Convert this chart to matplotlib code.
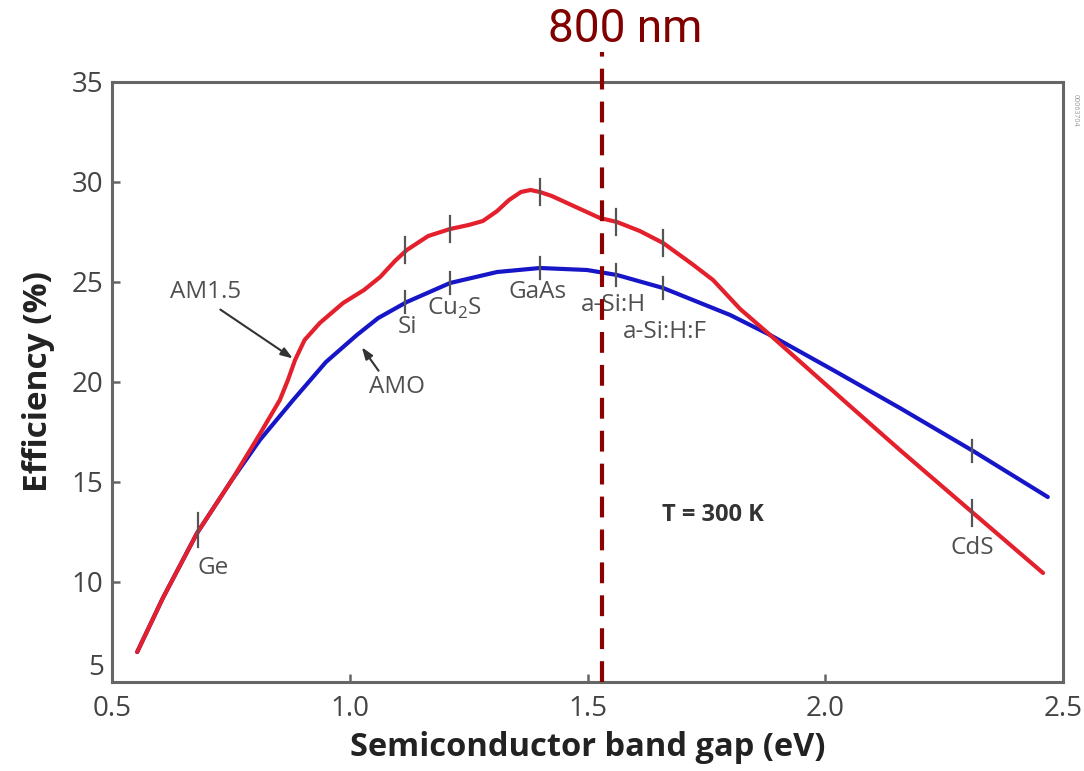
import matplotlib
matplotlib.use("Agg")
import matplotlib.pyplot as plt

# ---------------- data ----------------
am15_x = [0.553, 0.607, 0.679, 0.752, 0.811, 0.853, 0.870, 0.885, 0.905, 0.937, 0.986,
          1.030, 1.064, 1.095, 1.120, 1.165, 1.211, 1.250, 1.280, 1.310, 1.335, 1.360,
          1.380, 1.400, 1.425, 1.457, 1.526, 1.562, 1.610, 1.659, 1.720, 1.764, 1.821,
          1.884, 2.052, 2.157, 2.311, 2.458]
am15_y = [6.5, 9.2, 12.45, 15.1, 17.4, 19.1, 20.1, 21.1, 22.1, 22.95, 23.95,
          24.6, 25.25, 26.05, 26.6, 27.3, 27.65, 27.85, 28.05, 28.55, 29.1, 29.5,
          29.6, 29.5, 29.3, 28.95, 28.2, 28.0, 27.55, 26.95, 25.9, 25.1, 23.65,
          22.35, 18.8, 16.6, 13.45, 10.45]

am0_x = [0.553, 0.607, 0.679, 0.752, 0.811, 0.881, 0.950, 1.015, 1.060, 1.120, 1.211,
         1.310, 1.400, 1.499, 1.562, 1.659, 1.800, 1.884, 2.020, 2.157, 2.311, 2.468]
am0_y = [6.5, 9.2, 12.45, 15.1, 17.1, 19.1, 21.0, 22.35, 23.2, 24.0, 24.95,
         25.5, 25.7, 25.6, 25.35, 24.7, 23.35, 22.35, 20.55, 18.7, 16.55, 14.25]

materials = ["Ge", "Si", "Cu$_\\mathregular{2}$S", "GaAs", "a-Si:H", "a-Si:H:F", "CdS"]
mat_x = [0.681, 1.116, 1.211, 1.400, 1.560, 1.659, 2.309]
mat_red_y = [12.6, 26.6, 27.65, 29.5, 28.0, 26.95, 13.45]
mat_blue_y = [None, 24.0, 24.95, 25.7, 25.35, 24.7, 16.55]
mat_label_x = [0.712, 1.122, 1.221, 1.396, 1.554, 1.663, 2.309]
mat_label_y = [10.7, 22.75, 23.7, 24.5, 23.85, 22.5, 11.7]

line_800nm_x = 1.530
x_ticks = [0.5, 1.0, 1.5, 2.0, 2.5]
x_ticklabels = ["0.5", "1.0", "1.5", "2.0", "2.5"]
y_ticks = [5, 10, 15, 20, 25, 30, 35]

# ---------------- figure ----------------
plt.rcParams['font.family'] = ['Open Sans', 'DejaVu Sans']
plt.rcParams['mathtext.fontset'] = 'custom'
plt.rcParams['mathtext.rm'] = 'Open Sans'

fig = plt.figure(figsize=(10.84, 7.71), dpi=100)
ax = fig.add_axes([112/1084, 1-682/771, (1063-112)/1084, (682-82)/771])

ax.set_xlim(0.5, 2.5)
ax.set_ylim(5, 35)

blue = '#1616c8'
red = '#e3202c'
ax.plot(am0_x, am0_y, color=blue, lw=3, solid_capstyle='round',
        solid_joinstyle='round', zorder=3)
ax.plot(am15_x, am15_y, color=red, lw=3, solid_capstyle='round',
        solid_joinstyle='round', zorder=4)

tick_col = '#555555'
lab_fs = 17.5
for i, x in enumerate(mat_x):
    if i == 0:
        ax.plot([x, x], [mat_red_y[i]-0.85, mat_red_y[i]+0.85], color=tick_col, lw=1.6, zorder=5)
    else:
        ax.plot([x, x], [mat_red_y[i]-0.65, mat_red_y[i]+0.65], color=tick_col, lw=1.6, zorder=5)
        ax.plot([x, x], [mat_blue_y[i]-0.55, mat_blue_y[i]+0.55], color=tick_col, lw=1.6, zorder=5)
    ax.text(mat_label_x[i], mat_label_y[i], materials[i], ha='center', va='center',
            fontsize=lab_fs, color='#505050')

ax.text(0.696, 24.5, "AM1.5", ha='center', va='center', fontsize=lab_fs, color='#505050')
ax.text(1.099, 19.75, "AMO", ha='center', va='center', fontsize=lab_fs, color='#505050')
ax.annotate("", xy=(0.885, 21.1), xytext=(0.723, 23.7),
            arrowprops=dict(arrowstyle='-|>,head_length=0.7,head_width=0.25', color='#333333', lw=1.5))
ax.annotate("", xy=(1.022, 21.85), xytext=(1.064, 20.45),
            arrowprops=dict(arrowstyle='-|>,head_length=0.7,head_width=0.25', color='#333333', lw=1.5))

ax.text(1.764, 13.35, "T = 300 K", ha='center', va='center', fontsize=17,
        fontweight='bold', color='#333333')

# 800 nm line
ax.plot([line_800nm_x, line_800nm_x], [5, 36.5], color='#8b0000', lw=3,
        dashes=(5, 2.9), clip_on=False, zorder=6)
fig.text(625/1084, 1-42/771, "800 nm", ha='center', va='baseline', fontsize=33,
         color='#800000', family='Roboto')

# watermark
fig.text(1075/1084, 1-110/771, "00063704", rotation=270, ha='center', va='center',
         fontsize=5, color='#999999')

# axes styling
for s in ax.spines.values():
    s.set_color('#666666')
    s.set_linewidth(2.2)
ax.set_xticks(x_ticks)
ax.set_xticklabels(x_ticklabels)
ax.set_yticks(y_ticks)
ax.tick_params(direction='in', length=6, width=1.8, color='#666666',
               labelsize=20, labelcolor='#444444', top=False, right=False)
ax.tick_params(axis='x', pad=9)
ax.tick_params(axis='y', pad=6)
ax.get_yticklabels()[0].set_va('bottom')

ax.set_xlabel("Semiconductor band gap (eV)", fontsize=23.5, fontweight='bold',
              color='#222222', labelpad=6)
ax.set_ylabel("Efficiency (%)", fontsize=24, fontweight='bold', color='#222222',
              labelpad=12)

fig.savefig("out.png", dpi=100)
